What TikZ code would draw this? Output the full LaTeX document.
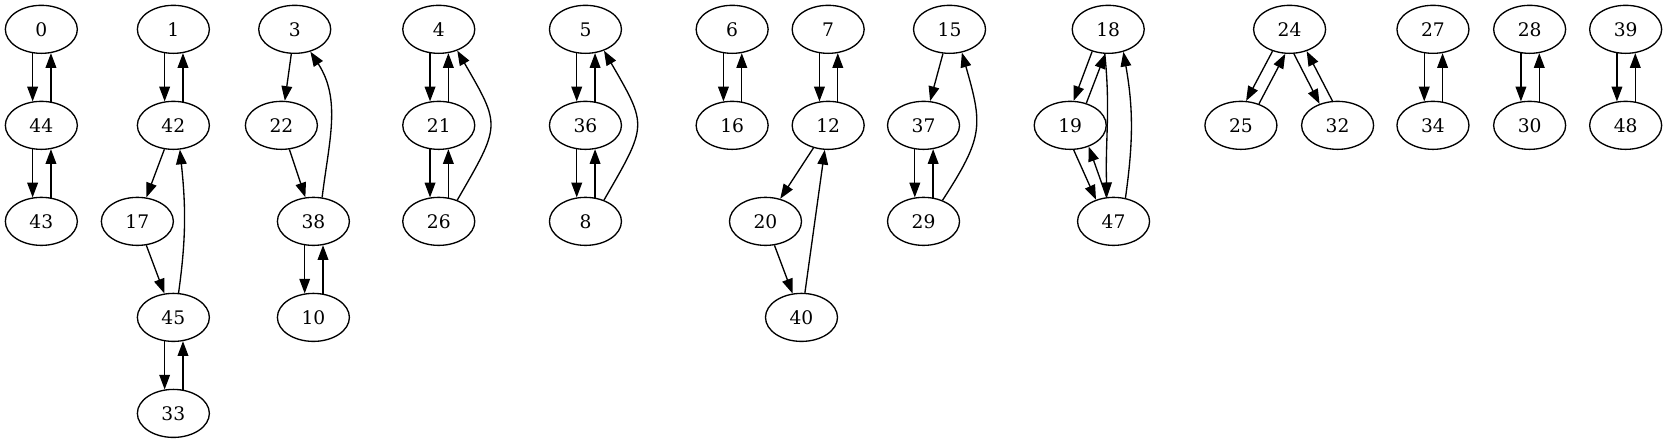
\documentclass[tikz,border=0pt]{standalone}
\usepackage{fontspec}
\setmainfont{DejaVu Serif}
\usetikzlibrary{shapes.geometric,arrows.meta}
\begin{document}
\begin{tikzpicture}[x=1pt,y=1pt,
  gnode/.style={draw,ellipse,minimum width=54pt,minimum height=36pt,inner sep=0pt,line width=1pt,font=\fontsize{14}{16}\selectfont},
  arr/.style={-{Triangle[length=11pt,width=8pt]},line width=1pt}]
\useasboundingbox (0,0) rectangle (1250,332);
% nodes
\node[gnode] (n0) at (31,310) {0};
\node[gnode] (n44) at (31,238) {44};
\node[gnode] (n43) at (31,166) {43};
\node[gnode] (n1) at (130,310) {1};
\node[gnode] (n42) at (130,238) {42};
\node[gnode] (n17) at (103,166) {17};
\node[gnode] (n45) at (130,94) {45};
\node[gnode] (n33) at (130,22) {33};
\node[gnode] (n3) at (221,310) {3};
\node[gnode] (n22) at (211,238) {22};
\node[gnode] (n38) at (235,166) {38};
\node[gnode] (n10) at (235,94) {10};
\node[gnode] (n4) at (329,310) {4};
\node[gnode] (n21) at (329,238) {21};
\node[gnode] (n26) at (329,166) {26};
\node[gnode] (n5) at (439,310) {5};
\node[gnode] (n36) at (439,238) {36};
\node[gnode] (n8) at (439,166) {8};
\node[gnode] (n6) at (549,310) {6};
\node[gnode] (n16) at (549,238) {16};
\node[gnode] (n7) at (621,310) {7};
\node[gnode] (n12) at (621,238) {12};
\node[gnode] (n20) at (574,166) {20};
\node[gnode] (n40) at (601,94) {40};
\node[gnode] (n15) at (712,310) {15};
\node[gnode] (n37) at (692.5,238) {37};
\node[gnode] (n29) at (692.5,166) {29};
\node[gnode] (n18) at (831,310) {18};
\node[gnode] (n19) at (802.5,238) {19};
\node[gnode] (n47) at (835,166) {47};
\node[gnode] (n24) at (967,310) {24};
\node[gnode] (n25) at (930.5,238) {25};
\node[gnode] (n32) at (1003,238) {32};
\node[gnode] (n27) at (1074.5,310) {27};
\node[gnode] (n34) at (1074.5,238) {34};
\node[gnode] (n28) at (1147,310) {28};
\node[gnode] (n30) at (1147,238) {30};
\node[gnode] (n39) at (1219,310) {39};
\node[gnode] (n48) at (1219,238) {48};
% vertical pairs
\foreach \a/\b in {n0/n44,n44/n43,n1/n42,n45/n33,n38/n10,n4/n21,n21/n26,n5/n36,n36/n8,n6/n16,n7/n12,n37/n29,n27/n34,n28/n30,n39/n48}{
  \draw[arr] (\a.-110) -- (\b.110);
  \draw[arr] (\b.68) -- (\a.-68);
}
% straight edges
\draw[arr] (n42) -- (n17);
\draw[arr] (n17) -- (n45);
\draw[arr] (n3) -- (n22);
\draw[arr] (n22) -- (n38);
\draw[arr] (n12) -- (n20);
\draw[arr] (n20) -- (n40);
\draw[arr] (n40) -- (n12);
\draw[arr] (n15) -- (n37);
% curved edges
\draw[arr] (n45.78) to[out=82,in=-84] (n42.-75);
\draw[arr] (n38.70) to[out=83,in=-57] (n3.-55);
\draw[arr] (n26.49) to[out=60,in=-60,looseness=1.5] (n4.-49);
\draw[arr] (n8.49) to[out=60,in=-60,looseness=1.5] (n5.-49);
\draw[arr] (n29.48) to[out=57,in=-74,looseness=1.3] (n15.-62);
% 18/19/47 cluster
\draw[arr] (n18.-126) -- (n19.82);
\draw[arr] (n19.54) -- (n18.-97);
\draw[arr] (n18.-98) to[out=-84,in=92] (n47.105);
\draw[arr] (n47.63) to[out=82,in=-80] (n18.-56);
\draw[arr] (n19.-82) -- (n47.129);
\draw[arr] (n47.106) -- (n19.-49);
% 24 cluster
\draw[arr] (n24.-128) -- (n25.78);
\draw[arr] (n25.50) -- (n24.-100);
\draw[arr] (n24.-80) -- (n32.130);
\draw[arr] (n32.102) -- (n24.-52);
\end{tikzpicture}
\end{document}
